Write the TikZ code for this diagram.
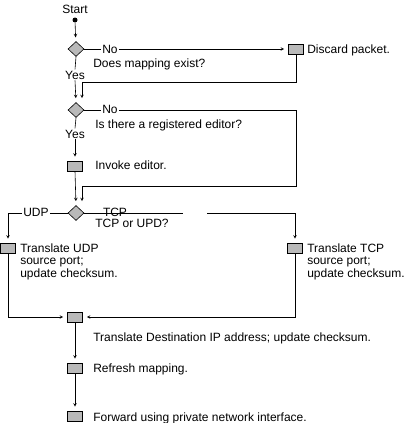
\documentclass[tikz,border=0pt]{standalone}
\usepackage{fontspec}
\setmainfont{Liberation Sans}
\usetikzlibrary{shapes.geometric}

\begin{document}
\begin{tikzpicture}[x=1pt,y=-1pt,>=stealth,line width=0.6pt,
    font=\fontsize{12}{12.5}\selectfont,
    act/.style={draw, fill=gray!55, minimum width=15pt, minimum height=10pt, inner sep=0pt},
    test/.style={draw, diamond, fill=gray!55, minimum width=16pt, minimum height=15pt, inner sep=0pt},
    lbl/.style={anchor=base west, inner sep=0pt, align=left},
    tag/.style={anchor=base, inner sep=1pt},
    flow/.style={->, shorten >=4pt}]
        \useasboundingbox (0,0) rectangle (404,423);
        \node (start) [tag] at (75,13) {Start};
        \node (dot) [circle, fill, inner sep=0pt, minimum size=5pt] at (75,20) {};
        % does a mapping exist
        \node (map) [test] at (76,49) {};
        \node (no1) [tag] at (110,53) {No};
        \node (discard) [act] at (296,49) {};
        \node (discardtxt) [lbl] at (307,53) {Discard packet.};
        \node (maptxt) [lbl] at (93,67) {Does mapping exist?};
        \node (yes1) [tag] at (75,79) {Yes};
        \coordinate (back1) at (82,82);
        % registered editor
        \node (edit) [test] at (76,110) {};
        \node (no2) [tag] at (110,113) {No};
        \node (edittxt) [lbl] at (95,128) {Is there a registered editor?};
        \node (yes2) [tag] at (75,138) {Yes};
        \coordinate (back2) at (296,186);
        \coordinate (back3) at (82,186);
        \node (invoke) [act] at (75,166) {};
        \node (invoketxt) [lbl] at (95,169) {Invoke editor.};
        % protocol
        \node (proto) [test] at (76,213) {};
        \node (udp) [tag] at (36,216) {UDP};
        \node (tcp) [tag] at (115,216) {TCP};
        \node (prototxt) [lbl] at (95,227) {TCP or UPD?};
        \coordinate (gapl) at (183,213);
        \coordinate (gapr) at (207,213);
        \node (udpbox) [act] at (8,248) {};
        \node (udptxt) [lbl] at (20,277) {Translate UDP\\source port;\\update checksum.};
        \node (tcpbox) [act] at (295,248) {};
        \node (tcptxt) [lbl] at (307,277) {Translate TCP\\source port;\\update checksum.};
        % common tail
        \node (xlate) [act] at (75,317) {};
        \node (xlatetxt) [lbl] at (93,341) {Translate Destination IP address; update checksum.};
        \node (refresh) [act] at (75,368) {};
        \node (refreshtxt) [lbl] at (93,372) {Refresh mapping.};
        \node (forward) [act] at (75,416) {};
        \node (forwardtxt) [lbl] at (93,421) {Forward using private network interface.};

        \draw[flow] (dot) -- (map);
        \draw (map.east) -- (map.east -| no1.west);
        \draw[flow] (map.east -| no1.east) -- (discard.west);
        \draw (map.south) -- (yes1.north);
        \draw[flow] (yes1.south) -- (edit.north);
        \draw[flow] (discard.south) |- (back1) -- (back1 |- edit.north);
        \draw (edit.east) -- (edit.east -| no2.west);
        \draw[flow] (edit.east -| no2.east) -| (back2) -- (back3) -- (back3 |- proto.north);
        \draw (edit.south) -- (yes2.north);
        \draw[flow] (yes2.south) -- (invoke.north);
        \draw[flow] (invoke.south) -- (proto.north);
        \draw (proto.west) -- (proto.west -| udp.east);
        \draw[flow] (proto.west -| udp.west) -| (udpbox.north);
        \draw (proto.east) -- (gapl);
        \draw[flow] (gapr) -| (tcpbox.north);
        \draw[flow] (udpbox.south) |- (xlate.west);
        \draw[flow] (tcpbox.south) |- (xlate.east);
        \draw[flow] (xlate) -- (refresh);
        \draw[flow] (refresh) -- (forward);
\end{tikzpicture}
\end{document}
